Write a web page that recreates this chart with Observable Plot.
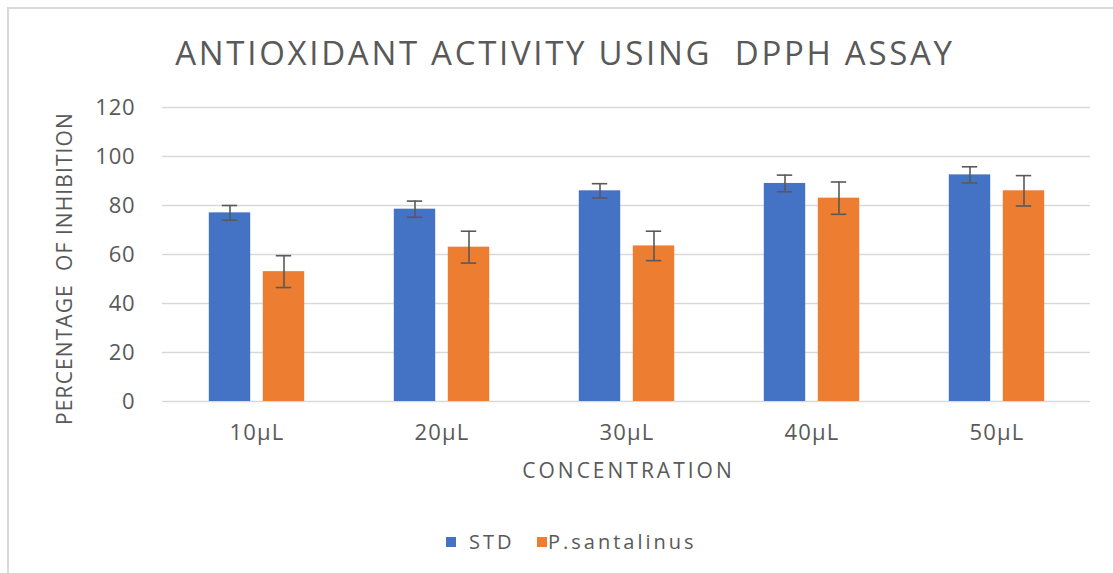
<!DOCTYPE html>
<html>
<head>
<meta charset="utf-8">
<script src="https://cdn.jsdelivr.net/npm/d3@7"></script>
<script src="https://cdn.jsdelivr.net/npm/@observablehq/plot@0.6"></script>
<style>
  html, body { margin: 0; padding: 0; background: #fff; }
  #wrap { position: relative; width: 1113px; height: 573px; overflow: hidden; font-family: "Open Sans", sans-serif; color: #595959; }
  #border { position: absolute; left: 7px; top: 7px; width: 1120px; height: 580px; border-left: 2px solid #d9d9d9; border-top: 2px solid #d9d9d9; }
  #title { position: absolute; top: 30px; left: 0; width: 1130px; text-align: center; font-size: 33px; white-space: pre; color: #595959; letter-spacing: 2.7px; }
  #chart { position: absolute; top: 90px; left: 0; }
  #legend { position: absolute; top: 528px; left: 0; width: 1113px; height: 30px; }
  .sw { position: absolute; width: 10px; height: 10px; top: 9px; }
  .lt { position: absolute; top: 0; font-size: 20px; letter-spacing: 3px; color: #595959; white-space: pre; }
  svg text { white-space: pre; }
</style>
</head>
<body>
<div id="wrap">
  <div id="border"></div>
  <div id="title"></div>
  <div id="chart"></div>
  <div id="legend"></div>
</div>
<script>
const title = "ANTIOXIDANT ACTIVITY USING  DPPH ASSAY";
const xLabel = "CONCENTRATION";
const yLabel = "PERCENTAGE  OF INHIBITION";
const concentrations = ["10µL", "20µL", "30µL", "40µL", "50µL"];
const seriesNames = ["STD", "P.santalinus"];
const stdValues = [77, 78.5, 86, 89, 92.5];
const stdErrors = [3, 3.3, 2.9, 3.4, 3.3];
const psValues = [53, 63, 63.5, 83, 86];
const psErrors = [6.5, 6.5, 6, 6.6, 6.2];
const yTicks = [0, 20, 40, 60, 80, 100, 120];
const colors = ["#4472C4", "#ED7D31"];

document.getElementById("title").textContent = title;

const stdData = concentrations.map((c, i) => ({c, v: stdValues[i], lo: stdValues[i] - stdErrors[i], hi: stdValues[i] + stdErrors[i]}));
const psData = concentrations.map((c, i) => ({c, v: psValues[i], lo: psValues[i] - psErrors[i], hi: psValues[i] + psErrors[i]}));

const W = 1113, H = 400, mL = 162, mR = 23, mT = 17, mB = 89;
const bw = (W - mL - mR) / concentrations.length;
const barW = 42, gap = 12, off = (barW + gap) / 2, capW = 16;
const errColor = "#595959";

function seriesMarks(data, color, sign) {
  const center = bw / 2 + sign * off;
  const insL = center - barW / 2;
  const insR = bw - insL - barW;
  return [
    Plot.barY(data, {x: "c", y: "v", fill: color, insetLeft: insL, insetRight: insR}),
    Plot.ruleX(data, {x: "c", y1: "lo", y2: "hi", stroke: errColor, strokeWidth: 1.6, dx: sign * off}),
    Plot.tickY(data, {x: "c", y: "lo", stroke: errColor, strokeWidth: 1.6, insetLeft: (bw - capW) / 2, insetRight: (bw - capW) / 2, dx: sign * off}),
    Plot.tickY(data, {x: "c", y: "hi", stroke: errColor, strokeWidth: 1.6, insetLeft: (bw - capW) / 2, insetRight: (bw - capW) / 2, dx: sign * off})
  ];
}

const plot = Plot.plot({
  width: W, height: H,
  marginLeft: mL, marginRight: mR, marginTop: mT, marginBottom: mB,
  style: {fontFamily: "Open Sans, sans-serif", color: "#595959", background: "transparent"},
  x: {type: "band", domain: concentrations, padding: 0, label: null},
  y: {domain: [0, 120], label: null},
  marks: [
    Plot.ruleY(yTicks, {stroke: "#d9d9d9", strokeWidth: 1.6}),
    ...seriesMarks(stdData, colors[0], -1),
    ...seriesMarks(psData, colors[1], 1),
    Plot.axisY({ticks: yTicks, tickSize: 0, tickPadding: 27, fontSize: 22, label: null, fill: "#595959"}),
    Plot.axisX({tickSize: 0, tickPadding: 23, fontSize: 22, label: null, fill: "#595959"}),
    Plot.text([xLabel], {frameAnchor: "bottom", dy: 70, dx: 2, fontSize: 21, fill: "#595959", lineAnchor: "middle", textAnchor: "middle"}),
    Plot.text([yLabel], {frameAnchor: "left", dx: -97, dy: 14, rotate: -90, fontSize: 21, fill: "#595959", lineAnchor: "middle", textAnchor: "middle"})
  ]
});
document.getElementById("chart").appendChild(plot);
plot.querySelectorAll("text").forEach(t => {
  const s = t.textContent;
  if (s === xLabel) t.style.letterSpacing = "3px";
  else if (s === yLabel) t.style.letterSpacing = "1.1px";
  else if (concentrations.includes(s)) t.style.letterSpacing = "1.2px";
  else t.style.letterSpacing = "0.8px";
});

const legend = document.getElementById("legend");
const legendPos = [{sq: 446, tx: 469}, {sq: 537, tx: 548}];
seriesNames.forEach((name, i) => {
  const s = document.createElement("div");
  s.className = "sw"; s.style.left = legendPos[i].sq + "px"; s.style.background = colors[i];
  legend.appendChild(s);
  const t = document.createElement("div");
  t.className = "lt"; t.style.left = legendPos[i].tx + "px"; t.textContent = name;
  legend.appendChild(t);
});
</script>
</body>
</html>
